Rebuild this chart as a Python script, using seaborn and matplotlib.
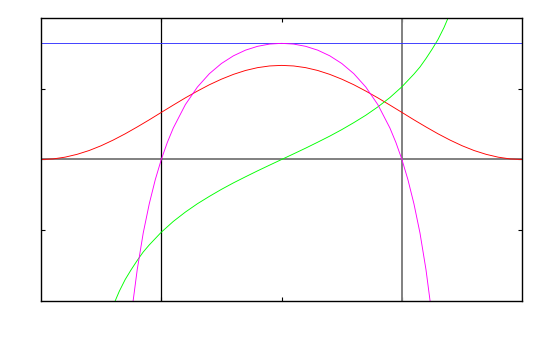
import numpy as np
import pandas as pd
import matplotlib
matplotlib.use('Agg')
import matplotlib.pyplot as plt
import seaborn as sns

# values
x_red = [-2.0, -1.9, -1.8, -1.7, -1.6, -1.5, -1.4, -1.3, -1.2, -1.1, -1.0,
         -0.9, -0.8, -0.7, -0.6, -0.5, -0.4, -0.3, -0.2, -0.1, 0.0,
         0.1, 0.2, 0.3, 0.4, 0.5, 0.6, 0.7, 0.8, 0.9, 1.0,
         1.1, 1.2, 1.3, 1.4, 1.5, 1.6, 1.7, 1.8, 1.9, 2.0]
y_red = [0.0, 0.008, 0.033, 0.073, 0.127, 0.195, 0.275, 0.364, 0.461, 0.562, 0.667,
         0.771, 0.873, 0.969, 1.059, 1.138, 1.206, 1.261, 1.301, 1.325, 1.333,
         1.325, 1.301, 1.261, 1.206, 1.138, 1.059, 0.969, 0.873, 0.771, 0.667,
         0.562, 0.461, 0.364, 0.275, 0.195, 0.127, 0.073, 0.033, 0.008, 0.0]

x_green = [-1.45, -1.4, -1.35, -1.3, -1.25, -1.2, -1.15, -1.1, -1.0, -0.9, -0.8,
           -0.7, -0.6, -0.5, -0.4, -0.3, -0.2, -0.1, 0.0, 0.1, 0.2, 0.3, 0.4,
           0.5, 0.6, 0.7, 0.8, 0.9, 1.0, 1.1, 1.15, 1.2, 1.25, 1.3, 1.35, 1.4, 1.45]
y_green = [-2.30, -2.07, -1.87, -1.70, -1.56, -1.43, -1.31, -1.21, -1.03, -0.877, -0.745,
           -0.627, -0.522, -0.423, -0.331, -0.245, -0.161, -0.080, 0.0, 0.080, 0.161, 0.245, 0.331,
           0.423, 0.522, 0.627, 0.745, 0.877, 1.03, 1.21, 1.31, 1.43, 1.56, 1.70, 1.87, 2.07, 2.30]

x_blue = [-2.0, 2.0]
y_blue = [1.645, 1.645]

x_magenta = [-1.25, -1.2, -1.15, -1.1, -1.05, -1.0, -0.95, -0.9, -0.8, -0.7, -0.6,
             -0.5, -0.4, -0.3, -0.2, -0.1, 0.0, 0.1, 0.2, 0.3, 0.4, 0.5,
             0.6, 0.7, 0.8, 0.9, 0.95, 1.0, 1.05, 1.1, 1.15, 1.2, 1.25]
y_magenta = [-2.21, -1.56, -1.04, -0.628, -0.286, 0.0, 0.241, 0.447, 0.777, 1.026, 1.216,
             1.360, 1.469, 1.549, 1.603, 1.635, 1.645, 1.635, 1.603, 1.549, 1.469, 1.360,
             1.216, 1.026, 0.777, 0.447, 0.241, 0.0, -0.286, -0.628, -1.04, -1.56, -2.21]

sns.set_style('white')
fig = plt.figure(figsize=(5.5, 3.5), dpi=100)
ax = fig.add_axes([0.0745, 0.1409, 0.875, 0.8068])

# zero axis and the two vertical lines
ax.axhline(0, color='#808080', lw=1.4, zorder=1)
ax.axvline(-1, color='black', lw=0.9, zorder=1)
ax.axvline(1, color='#808080', lw=1.4, zorder=1)

lw = 0.65
sns.lineplot(x=x_red, y=y_red, color='#ff0000', lw=lw, sort=False, estimator=None, ax=ax)
sns.lineplot(x=x_green, y=y_green, color='#00ff00', lw=lw, sort=False, estimator=None, ax=ax)
sns.lineplot(x=x_blue, y=y_blue, color='#3333ff', lw=lw, sort=False, estimator=None, ax=ax)
sns.lineplot(x=x_magenta, y=y_magenta, color='#ff00ff', lw=lw, sort=False, estimator=None, ax=ax)

ax.set_xlim(-2, 2)
ax.set_ylim(-2, 2)
ax.set_xticks([-1, 0, 1])
ax.set_yticks([-1, 0, 1])
ax.tick_params(direction='in', length=3, width=0.8, top=True, right=True,
               bottom=True, left=True, labelbottom=False, labelleft=False, colors='black')
for s in ax.spines.values():
    s.set_color('black')
    s.set_linewidth(1.0)
ax.grid(False)

fig.savefig('out.png', dpi=100)
